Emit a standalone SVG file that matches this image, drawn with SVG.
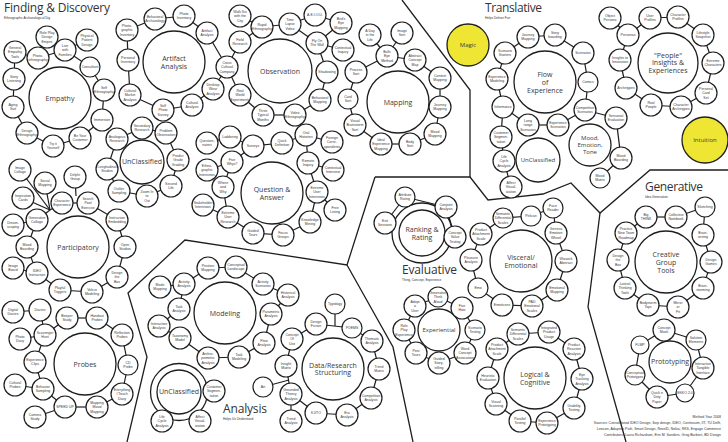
<svg xmlns="http://www.w3.org/2000/svg" width="728" height="442" viewBox="0 0 728 442">
<style>
.n circle{fill:#fff;stroke:#1e1e1e;stroke-width:1.2}
.n text{font-family:"Liberation Sans",Arial,sans-serif;font-size:3.5px;fill:#3a3a3a;text-anchor:middle}
.h circle{fill:#fff;stroke:#1e1e1e;stroke-width:1.3}
.h text{font-family:"Open Sans","Liberation Sans",sans-serif;font-size:7px;fill:#3a3a3a;text-anchor:middle}
.h .m{font-size:6px}
.h circle.ring{fill:none}
.y circle{fill:#efe633}
#conn line,#conn polyline{stroke:#1e1e1e;stroke-width:1.2;fill:none}
#regions polyline{stroke:#1e1e1e;stroke-width:1.3;fill:none}
.ti{font-family:"Open Sans","Liberation Sans",sans-serif;font-size:12px;fill:#333}
.st{font-family:"Liberation Sans",Arial,sans-serif;font-size:3.2px;fill:#333}
.ft{font-family:"Liberation Sans",Arial,sans-serif;font-size:3.5px;fill:#333;text-anchor:end}
</style>
<rect width="728" height="442" fill="#fff"/>
<g id="regions">
<polyline points="402,0 470,90 470,177"/>
<polyline points="375,177 470,177 488,200 543,194 571,183 600,213 650,170 728,170"/>
<polyline points="600,213 590,292 588,307 626,442"/>
<polyline points="375,177 347,265 185,240 128,293 147,357 127,442"/>
<polyline points="347,265 393,347 413,442"/>
</g>
<g id="titles">
<text class="ti" x="4" y="12" textLength="106" font-size="12.5">Finding &amp; Discovery</text>
<text class="st" x="4" y="19">Ethnographic Archaeological Dig</text>
<text class="ti" x="485" y="12" textLength="57">Translative</text>
<text class="st" x="485" y="19">Helps Deliver Fun</text>
<text class="ti" x="402" y="274" textLength="55">Evaluative</text>
<text class="st" x="402" y="281.2">Thing, Concept, Experience</text>
<text class="ti" x="223" y="412.5" textLength="44">Analysis</text>
<text class="st" x="223" y="419.8">Helps Us Understand</text>
<text class="ti" x="645" y="191" textLength="58">Generative</text>
<text class="st" x="645" y="198">Idea Generation</text>
<text class="ft" x="721" y="418">Method Year 2008</text>
<text class="ft" x="721" y="424">Sources: Consolidated IDEO Design, Ikep design, IDEO, Continuum, IIT, TU Delft,</text>
<text class="ft" x="721" y="430">Lexicon, Adaptive Path, Smart Design, RevelD, Nokia, RKS, Engage Commerce</text>
<text class="ft" x="721" y="436">Contributors: Laura Richardson, Erin M. Sanders, Greg Barbieri, BD Design</text>
</g>
<g id="conn">
<line x1="15" y1="52" x2="38" y2="58"/><line x1="38" y1="58" x2="47" y2="37"/><line x1="38" y1="58" x2="65" y2="50"/><line x1="65" y1="50" x2="87" y2="40"/><line x1="65" y1="50" x2="90" y2="67"/><line x1="90" y1="67" x2="104" y2="90"/><line x1="104" y1="90" x2="102" y2="120"/><line x1="102" y1="120" x2="80" y2="138"/><line x1="80" y1="138" x2="53" y2="146"/><line x1="53" y1="146" x2="27" y2="133"/><line x1="27" y1="133" x2="13" y2="107"/><line x1="13" y1="107" x2="14" y2="79"/><line x1="14" y1="79" x2="15" y2="52"/>
<line x1="127" y1="30" x2="155" y2="19"/><line x1="155" y1="19" x2="184" y2="16"/><line x1="184" y1="16" x2="207" y2="33"/><line x1="207" y1="33" x2="227" y2="67"/><line x1="227" y1="67" x2="213" y2="89"/><line x1="213" y1="89" x2="192" y2="105"/><line x1="192" y1="105" x2="163" y2="110"/><line x1="163" y1="110" x2="130" y2="95"/><line x1="130" y1="95" x2="128" y2="60"/><line x1="128" y1="60" x2="127" y2="30"/><line x1="227" y1="67" x2="240" y2="42"/><line x1="227" y1="67" x2="240" y2="95"/>
<line x1="240" y1="16" x2="262" y2="27"/><line x1="262" y1="27" x2="240" y2="42"/><line x1="262" y1="27" x2="290" y2="24"/><line x1="290" y1="24" x2="315" y2="15"/><line x1="290" y1="24" x2="317" y2="43"/><line x1="315" y1="15" x2="341" y2="23"/><line x1="341" y1="23" x2="317" y2="43"/><line x1="317" y1="43" x2="343" y2="50"/><line x1="317" y1="43" x2="327" y2="72"/><line x1="327" y1="72" x2="320" y2="100"/><line x1="320" y1="100" x2="295" y2="115"/><line x1="295" y1="115" x2="263" y2="115"/><line x1="263" y1="115" x2="240" y2="95"/>
<line x1="370" y1="35" x2="387" y2="56"/><line x1="402" y1="33" x2="387" y2="56"/><line x1="387" y1="56" x2="415" y2="60"/><line x1="387" y1="56" x2="356" y2="72"/><line x1="415" y1="60" x2="440" y2="78"/><line x1="440" y1="78" x2="440" y2="107"/><line x1="440" y1="107" x2="435" y2="134"/><line x1="435" y1="134" x2="410" y2="144"/><line x1="410" y1="144" x2="381" y2="144"/><line x1="381" y1="144" x2="355" y2="125"/><line x1="355" y1="125" x2="348" y2="99"/><line x1="348" y1="99" x2="356" y2="72"/>
<line x1="505" y1="53" x2="528" y2="37"/><line x1="528" y1="37" x2="555" y2="35"/><line x1="555" y1="35" x2="583" y2="53"/><line x1="583" y1="53" x2="588" y2="82"/><line x1="588" y1="82" x2="585" y2="110"/><line x1="585" y1="110" x2="558" y2="125"/><line x1="558" y1="125" x2="528" y2="125"/><line x1="528" y1="125" x2="503" y2="107"/><line x1="503" y1="107" x2="497" y2="79"/><line x1="497" y1="79" x2="505" y2="53"/>
<line x1="585" y1="110" x2="616" y2="118"/><line x1="616" y1="118" x2="621" y2="158"/><line x1="621" y1="158" x2="600" y2="178"/>
<line x1="503" y1="107" x2="501" y2="137"/><line x1="501" y1="137" x2="504" y2="161"/><line x1="504" y1="161" x2="511" y2="187"/>
<line x1="610" y1="18" x2="628" y2="35"/><line x1="628" y1="35" x2="650" y2="18"/><line x1="650" y1="18" x2="678" y2="17"/><line x1="678" y1="17" x2="703" y2="35"/><line x1="703" y1="35" x2="713" y2="63"/><line x1="713" y1="63" x2="706" y2="93"/><line x1="706" y1="93" x2="681" y2="107"/><line x1="681" y1="107" x2="651" y2="105"/><line x1="651" y1="105" x2="626" y2="88"/><line x1="626" y1="88" x2="620" y2="60"/><line x1="620" y1="60" x2="628" y2="35"/>
<line x1="646" y1="217" x2="676" y2="217"/><line x1="676" y1="217" x2="705" y2="207"/><line x1="705" y1="207" x2="703" y2="235"/><line x1="703" y1="235" x2="711" y2="262"/><line x1="711" y1="262" x2="703" y2="288"/><line x1="703" y1="288" x2="678" y2="307"/><line x1="678" y1="307" x2="648" y2="305"/><line x1="648" y1="305" x2="625" y2="288"/><line x1="625" y1="288" x2="618" y2="260"/><line x1="618" y1="260" x2="626" y2="233"/><line x1="626" y1="233" x2="646" y2="217"/>
<line x1="664" y1="330" x2="696" y2="340"/><line x1="696" y1="340" x2="703" y2="368"/><line x1="703" y1="368" x2="685" y2="393"/><line x1="685" y1="393" x2="657" y2="397"/><line x1="657" y1="397" x2="635" y2="375"/><line x1="635" y1="375" x2="640" y2="345"/><line x1="640" y1="345" x2="664" y2="330"/>
<line x1="385" y1="223" x2="405" y2="197"/><line x1="405" y1="197" x2="446" y2="207"/><line x1="446" y1="207" x2="455" y2="237"/>
<line x1="503" y1="218" x2="531" y2="216"/><line x1="531" y1="216" x2="553" y2="208"/><line x1="553" y1="208" x2="556" y2="233"/><line x1="556" y1="233" x2="566" y2="261"/><line x1="566" y1="261" x2="557" y2="290"/><line x1="503" y1="218" x2="481" y2="234"/><line x1="481" y1="234" x2="471" y2="260"/><line x1="471" y1="260" x2="478" y2="288"/><line x1="478" y1="288" x2="502" y2="305"/><line x1="502" y1="305" x2="532" y2="306"/><line x1="532" y1="306" x2="557" y2="290"/>
<line x1="415" y1="306" x2="438" y2="297"/><line x1="438" y1="297" x2="462" y2="308"/><line x1="462" y1="308" x2="475" y2="330"/><line x1="475" y1="330" x2="465" y2="353"/><line x1="465" y1="353" x2="439" y2="363"/><line x1="439" y1="363" x2="416" y2="353"/><line x1="416" y1="353" x2="404" y2="330"/><line x1="404" y1="330" x2="415" y2="306"/>
<line x1="497" y1="349" x2="518" y2="334"/><line x1="518" y1="334" x2="549" y2="332"/><line x1="549" y1="332" x2="574" y2="349"/><line x1="574" y1="349" x2="582" y2="379"/><line x1="582" y1="379" x2="574" y2="408"/><line x1="574" y1="408" x2="547" y2="423"/><line x1="547" y1="423" x2="520" y2="421"/><line x1="520" y1="421" x2="496" y2="404"/><line x1="496" y1="404" x2="488" y2="378"/><line x1="488" y1="378" x2="497" y2="349"/>
<line x1="160" y1="287" x2="184" y2="284"/><line x1="184" y1="284" x2="208" y2="268"/><line x1="208" y1="268" x2="236" y2="267"/><line x1="236" y1="267" x2="263" y2="284"/><line x1="263" y1="284" x2="288" y2="295"/><line x1="288" y1="295" x2="271" y2="314"/><line x1="271" y1="314" x2="264" y2="343"/><line x1="264" y1="343" x2="239" y2="357"/><line x1="239" y1="357" x2="208" y2="358"/><line x1="208" y1="358" x2="180" y2="338"/><line x1="180" y1="338" x2="159" y2="326"/><line x1="159" y1="326" x2="179" y2="309"/><line x1="179" y1="309" x2="184" y2="284"/>
<line x1="316" y1="324" x2="352" y2="328"/><line x1="335" y1="304" x2="335" y2="326"/><line x1="316" y1="324" x2="292" y2="339"/><line x1="292" y1="339" x2="286" y2="366"/><line x1="286" y1="366" x2="291" y2="394"/><line x1="263" y1="387" x2="289" y2="380"/><line x1="291" y1="394" x2="291" y2="421"/><line x1="291" y1="394" x2="316" y2="413"/><line x1="316" y1="413" x2="347" y2="415"/><line x1="347" y1="415" x2="371" y2="398"/><line x1="371" y1="398" x2="379" y2="369"/><line x1="379" y1="369" x2="372" y2="341"/><line x1="372" y1="341" x2="352" y2="328"/>
<line x1="13" y1="312" x2="40" y2="310"/><line x1="40" y1="310" x2="45" y2="335"/><line x1="67" y1="318" x2="97" y2="318"/><line x1="67" y1="318" x2="45" y2="335"/><line x1="97" y1="318" x2="122" y2="335"/><line x1="20" y1="339" x2="45" y2="335"/><line x1="45" y1="335" x2="35" y2="362"/><line x1="35" y1="362" x2="43" y2="389"/><line x1="15" y1="385" x2="43" y2="389"/><line x1="43" y1="389" x2="65" y2="407"/><line x1="65" y1="407" x2="35" y2="417"/><line x1="65" y1="407" x2="97" y2="407"/><line x1="97" y1="407" x2="122" y2="394"/><line x1="122" y1="394" x2="128" y2="365"/><line x1="128" y1="365" x2="122" y2="335"/>
<line x1="20" y1="170" x2="50" y2="210"/><line x1="45" y1="183" x2="50" y2="210"/><line x1="23" y1="198" x2="50" y2="210"/><line x1="37" y1="220" x2="50" y2="210"/><line x1="50" y1="210" x2="62" y2="203"/><line x1="75" y1="177" x2="76" y2="196"/><line x1="62" y1="203" x2="88" y2="203"/><line x1="88" y1="203" x2="117" y2="220"/><line x1="117" y1="220" x2="125" y2="247"/><line x1="125" y1="247" x2="117" y2="277"/><line x1="117" y1="277" x2="92" y2="292"/><line x1="92" y1="292" x2="60" y2="290"/><line x1="60" y1="290" x2="37" y2="273"/><line x1="37" y1="273" x2="13" y2="268"/><line x1="37" y1="273" x2="27" y2="247"/><line x1="27" y1="247" x2="37" y2="220"/><line x1="37" y1="220" x2="13" y2="225"/>
<line x1="117" y1="139" x2="142" y2="128"/><line x1="142" y1="128" x2="166" y2="133"/><line x1="166" y1="133" x2="178" y2="160"/><line x1="178" y1="160" x2="171" y2="186"/><line x1="171" y1="186" x2="147" y2="196"/><line x1="147" y1="196" x2="119" y2="191"/><line x1="119" y1="191" x2="107" y2="169"/><line x1="107" y1="169" x2="117" y2="139"/>
<line x1="207" y1="143" x2="230" y2="137"/><line x1="230" y1="137" x2="253" y2="146"/><line x1="253" y1="146" x2="282" y2="143"/><line x1="282" y1="143" x2="306" y2="135"/><line x1="306" y1="135" x2="332" y2="142"/><line x1="306" y1="135" x2="308" y2="163"/><line x1="308" y1="163" x2="333" y2="170"/><line x1="308" y1="163" x2="317" y2="192"/><line x1="317" y1="192" x2="335" y2="210"/><line x1="317" y1="192" x2="310" y2="222"/><line x1="310" y1="222" x2="283" y2="235"/><line x1="283" y1="235" x2="253" y2="233"/><line x1="253" y1="233" x2="228" y2="217"/><line x1="228" y1="217" x2="203" y2="205"/><line x1="228" y1="217" x2="223" y2="187"/><line x1="223" y1="187" x2="232" y2="162"/><line x1="232" y1="162" x2="207" y2="170"/><line x1="232" y1="162" x2="253" y2="146"/>
</g>
<g id="hubs">
<g id="empathy" class="h"><circle cx="60" cy="98" r="31"/><text x="60" y="100.5">Empathy</text></g>
<g id="artifact" class="h"><circle cx="174" cy="62" r="31"/><text y="60.5"><tspan x="174">Artifact</tspan><tspan x="174" dy="8">Analysis</tspan></text></g>
<g id="observation" class="h"><circle cx="280" cy="71" r="32"/><text x="280" y="73.5">Observation</text></g>
<g id="mapping" class="h"><circle cx="398" cy="102" r="31"/><text x="398" y="104.5">Mapping</text></g>
<g id="magic" class="h y"><circle cx="468" cy="45" r="21"/><text x="468" y="47" class="m">Magic</text></g>
<g id="flow" class="h"><circle cx="545" cy="82" r="31"/><text y="76.5"><tspan x="545">Flow</tspan><tspan x="545" dy="8">of</tspan><tspan x="545" dy="8">Experience</tspan></text></g>
<g id="mood" class="h"><circle cx="590" cy="145" r="21"/><text y="140.4" class="m"><tspan x="590">Mood,</tspan><tspan x="590" dy="6.8">Emotion,</tspan><tspan x="590" dy="6.8">Tone</tspan></text></g>
<g id="unclassified-t" class="h"><circle cx="538" cy="160" r="22"/><text x="538" y="162.2" class="m">UnClassified</text></g>
<g id="people" class="h"><circle cx="668" cy="63" r="30"/><text y="57.9" font-size="6.5"><tspan x="668">"People"</tspan><tspan x="668" dy="7.5">Insights &amp;</tspan><tspan x="668" dy="7.5">Experiences</tspan></text></g>
<g id="intuition" class="h y"><circle cx="705" cy="140" r="23"/><text x="705" y="142" class="m">Intuition</text></g>
<g id="creative" class="h"><circle cx="666" cy="262" r="31"/><text y="256.5"><tspan x="666">Creative</tspan><tspan x="666" dy="8">Group</tspan><tspan x="666" dy="8">Tools</tspan></text></g>
<g id="prototyping" class="h"><circle cx="670" cy="362" r="21"/><text x="670" y="364.3" font-size="6.5">Prototyping</text></g>
<g id="ranking" class="h"><circle class="ring" cx="422" cy="233" r="30"/><circle cx="422" cy="233" r="23"/><text y="231.5" font-size="6.5"><tspan x="422">Ranking &amp;</tspan><tspan x="422" dy="8">Rating</tspan></text></g>
<g id="visceral" class="h"><circle cx="521" cy="261" r="31"/><text y="259.5"><tspan x="521">Visceral/</tspan><tspan x="521" dy="8">Emotional</tspan></text></g>
<g id="experiential" class="h"><circle cx="439" cy="330" r="21"/><text x="439" y="332.2" class="m">Experiential</text></g>
<g id="logical" class="h"><circle cx="535" cy="378" r="31"/><text y="376.5"><tspan x="535">Logical &amp;</tspan><tspan x="535" dy="8">Cognitive</tspan></text></g>
<g id="modeling" class="h"><circle cx="225" cy="313" r="31"/><text x="225" y="315.5">Modeling</text></g>
<g id="unclassified-a" class="h"><circle class="ring" cx="179" cy="392" r="28.5"/><circle cx="179" cy="392" r="22"/><text x="179" y="394.3" font-size="6.5">UnClassified</text></g>
<g id="data" class="h"><circle cx="333" cy="369" r="31"/><text y="367.5" font-size="6.5"><tspan x="333">Data/Research</tspan><tspan x="333" dy="7.5">Structuring</tspan></text></g>
<g id="probes" class="h"><circle cx="85" cy="364" r="31"/><text x="85" y="366.5">Probes</text></g>
<g id="participatory" class="h"><circle cx="78" cy="247" r="31"/><text x="78" y="249.5">Participatory</text></g>
<g id="unclassified-f" class="h"><circle cx="142" cy="162" r="22"/><text x="142" y="164.3" font-size="6.5">UnClassified</text></g>
<g id="qa" class="h"><circle cx="272" cy="193" r="31"/><text y="191.5"><tspan x="272">Question &amp;</tspan><tspan x="272" dy="8">Answer</tspan></text></g>
</g>
<g id="nodes">
<g id="e1" class="n"><circle cx="15" cy="52" r="11"/><text y="48.8"><tspan x="15">General</tspan><tspan x="15" dy="4.4">Empathy</tspan><tspan x="15" dy="4.4">Tools</tspan></text></g>
<g id="e2" class="n"><circle cx="38" cy="58" r="11"/><text y="57"><tspan x="38">Photo-</tspan><tspan x="38" dy="4.4">ethnography</tspan></text></g>
<g id="e3" class="n"><circle cx="47" cy="37" r="11"/><text y="33.8"><tspan x="47">Role Play</tspan><tspan x="47" dy="4.4">Design</tspan><tspan x="47" dy="4.4">Empire</tspan></text></g>
<g id="e4" class="n"><circle cx="65" cy="50" r="11"/><text y="46.8"><tspan x="65">Live</tspan><tspan x="65" dy="4.4">with</tspan><tspan x="65" dy="4.4">Families</tspan></text></g>
<g id="e5" class="n"><circle cx="87" cy="40" r="11"/><text y="36.8"><tspan x="87">Physical</tspan><tspan x="87" dy="4.4">Patient</tspan><tspan x="87" dy="4.4">Design</tspan></text></g>
<g id="e6" class="n"><circle cx="90" cy="67" r="10"/><text x="90" y="68.3">Consultant</text></g>
<g id="e7" class="n"><circle cx="104" cy="90" r="11"/><text y="89"><tspan x="104">Self</tspan><tspan x="104" dy="4.4">Ethnography</tspan></text></g>
<g id="e8" class="n"><circle cx="102" cy="120" r="11"/><text x="102" y="121.3">Immersion</text></g>
<g id="e9" class="n"><circle cx="80" cy="138" r="11"/><text y="137"><tspan x="80">Be Your</tspan><tspan x="80" dy="4.4">Customer</tspan></text></g>
<g id="e10" class="n"><circle cx="53" cy="146" r="11"/><text y="145"><tspan x="53">Try it</tspan><tspan x="53" dy="4.4">Yourself</tspan></text></g>
<g id="e11" class="n"><circle cx="27" cy="133" r="11"/><text y="132"><tspan x="27">Design</tspan><tspan x="27" dy="4.4">Ethnography</tspan></text></g>
<g id="e12" class="n"><circle cx="13" cy="107" r="11"/><text y="106"><tspan x="13">Aging</tspan><tspan x="13" dy="4.4">Suit</tspan></text></g>
<g id="e13" class="n"><circle cx="14" cy="79" r="11"/><text y="78"><tspan x="14">Story</tspan><tspan x="14" dy="4.4">Listening</tspan></text></g>

<g id="a1" class="n"><circle cx="127" cy="30" r="11"/><text y="26.8"><tspan x="127">Photo-</tspan><tspan x="127" dy="4.4">graphic</tspan><tspan x="127" dy="4.4">Inventory</tspan></text></g>
<g id="a2" class="n"><circle cx="155" cy="19" r="11"/><text y="18"><tspan x="155">Behavioral</tspan><tspan x="155" dy="4.4">Archaeology</tspan></text></g>
<g id="a3" class="n"><circle cx="184" cy="16" r="11"/><text y="15"><tspan x="184">Photo</tspan><tspan x="184" dy="4.4">Inventory</tspan></text></g>
<g id="a4" class="n"><circle cx="207" cy="33" r="11"/><text y="32"><tspan x="207">Artifact</tspan><tspan x="207" dy="4.4">Analysis</tspan></text></g>
<g id="a5" class="n"><circle cx="227" cy="67" r="11"/><text y="63.8"><tspan x="227">Cross</tspan><tspan x="227" dy="4.4">Cultural</tspan><tspan x="227" dy="4.4">Company</tspan></text></g>
<g id="a6" class="n"><circle cx="213" cy="89" r="11"/><text y="85.8"><tspan x="213">Desktop</tspan><tspan x="213" dy="4.4">Wear</tspan><tspan x="213" dy="4.4">Analysis</tspan></text></g>
<g id="a7" class="n"><circle cx="192" cy="105" r="11"/><text y="104"><tspan x="192">Cultural</tspan><tspan x="192" dy="4.4">Analysis</tspan></text></g>
<g id="a8" class="n"><circle cx="163" cy="110" r="11"/><text y="106.8"><tspan x="163">Self</tspan><tspan x="163" dy="4.4">Photo</tspan><tspan x="163" dy="4.4">Survey</tspan></text></g>
<g id="a9" class="n"><circle cx="130" cy="95" r="11"/><text y="91.8"><tspan x="130">Cultural</tspan><tspan x="130" dy="4.4">Market</tspan><tspan x="130" dy="4.4">Analysis</tspan></text></g>
<g id="a10" class="n"><circle cx="128" cy="60" r="11"/><text y="59"><tspan x="128">Personal</tspan><tspan x="128" dy="4.4">Inventory</tspan></text></g>

<g id="o1" class="n"><circle cx="240" cy="16" r="11"/><text y="12.8"><tspan x="240">Walk Six</tspan><tspan x="240" dy="4.4">with the</tspan><tspan x="240" dy="4.4">City</tspan></text></g>
<g id="o2" class="n"><circle cx="262" cy="27" r="11"/><text y="26"><tspan x="262">Rapid</tspan><tspan x="262" dy="4.4">Ethnography</tspan></text></g>
<g id="o3" class="n"><circle cx="240" cy="42" r="11"/><text y="41"><tspan x="240">Field</tspan><tspan x="240" dy="4.4">Research</tspan></text></g>
<g id="o4" class="n"><circle cx="290" cy="24" r="11"/><text y="20.8"><tspan x="290">Time</tspan><tspan x="290" dy="4.4">Lapse</tspan><tspan x="290" dy="4.4">Video</tspan></text></g>
<g id="o5" class="n"><circle cx="315" cy="15" r="11"/><text x="315" y="16.3">A.E.I.O.U.</text></g>
<g id="o6" class="n"><circle cx="341" cy="23" r="11"/><text y="19.8"><tspan x="341">Bird's</tspan><tspan x="341" dy="4.4">Eye</tspan><tspan x="341" dy="4.4">Mapping</tspan></text></g>
<g id="o7" class="n"><circle cx="317" cy="43" r="11"/><text y="42"><tspan x="317">Fly On</tspan><tspan x="317" dy="4.4">The Wall</tspan></text></g>
<g id="o8" class="n"><circle cx="343" cy="50" r="11"/><text y="49"><tspan x="343">Contextual</tspan><tspan x="343" dy="4.4">Inquiry</tspan></text></g>
<g id="o9" class="n"><circle cx="327" cy="72" r="11"/><text x="327" y="73.3">Shadowing</text></g>
<g id="o10" class="n"><circle cx="320" cy="100" r="11"/><text y="99"><tspan x="320">Behavioral</tspan><tspan x="320" dy="4.4">Mapping</tspan></text></g>
<g id="o11" class="n"><circle cx="295" cy="115" r="11"/><text y="114"><tspan x="295">Video</tspan><tspan x="295" dy="4.4">Ethnography</tspan></text></g>
<g id="o12" class="n"><circle cx="263" cy="115" r="11"/><text y="111.8"><tspan x="263">Three</tspan><tspan x="263" dy="4.4">Typical</tspan><tspan x="263" dy="4.4">Months</tspan></text></g>
<g id="o13" class="n"><circle cx="240" cy="95" r="11"/><text y="91.8"><tspan x="240">Real</tspan><tspan x="240" dy="4.4">World</tspan><tspan x="240" dy="4.4">Experiments</tspan></text></g>

<g id="m1" class="n"><circle cx="370" cy="35" r="11"/><text y="31.8"><tspan x="370">A Day</tspan><tspan x="370" dy="4.4">in the</tspan><tspan x="370" dy="4.4">Life</tspan></text></g>
<g id="m2" class="n"><circle cx="402" cy="33" r="11"/><text y="32"><tspan x="402">Image</tspan><tspan x="402" dy="4.4">Sort</tspan></text></g>
<g id="m3" class="n"><circle cx="387" cy="56" r="11"/><text y="52.8"><tspan x="387">Bulls</tspan><tspan x="387" dy="4.4">Eye</tspan><tspan x="387" dy="4.4">Method</tspan></text></g>
<g id="m4" class="n"><circle cx="415" cy="60" r="11"/><text y="56.8"><tspan x="415">Abstract</tspan><tspan x="415" dy="4.4">Concept</tspan><tspan x="415" dy="4.4">Map</tspan></text></g>
<g id="m5" class="n"><circle cx="440" cy="78" r="11"/><text y="77"><tspan x="440">Context</tspan><tspan x="440" dy="4.4">Mapping</tspan></text></g>
<g id="m6" class="n"><circle cx="440" cy="107" r="11"/><text y="106"><tspan x="440">Journey</tspan><tspan x="440" dy="4.4">Mapping</tspan></text></g>
<g id="m7" class="n"><circle cx="435" cy="134" r="11"/><text y="133"><tspan x="435">Mood</tspan><tspan x="435" dy="4.4">Mapping</tspan></text></g>
<g id="m8" class="n"><circle cx="410" cy="144" r="11"/><text y="143"><tspan x="410">Body</tspan><tspan x="410" dy="4.4">Sort</tspan></text></g>
<g id="m9" class="n"><circle cx="381" cy="144" r="11"/><text y="140.8"><tspan x="381">Ideal</tspan><tspan x="381" dy="4.4">Experience</tspan><tspan x="381" dy="4.4">Mapping</tspan></text></g>
<g id="m10" class="n"><circle cx="355" cy="125" r="11"/><text y="121.8"><tspan x="355">Visual</tspan><tspan x="355" dy="4.4">Brainstorm</tspan><tspan x="355" dy="4.4">Sort</tspan></text></g>
<g id="m11" class="n"><circle cx="348" cy="99" r="10"/><text y="98"><tspan x="348">Card</tspan><tspan x="348" dy="4.4">Sort</tspan></text></g>
<g id="m12" class="n"><circle cx="356" cy="72" r="11"/><text y="71"><tspan x="356">Process</tspan><tspan x="356" dy="4.4">Sort</tspan></text></g>

<g id="f1" class="n"><circle cx="528" cy="37" r="11"/><text y="36"><tspan x="528">Journey</tspan><tspan x="528" dy="4.4">Mapping</tspan></text></g>
<g id="f2" class="n"><circle cx="555" cy="35" r="11"/><text y="34"><tspan x="555">Story</tspan><tspan x="555" dy="4.4">boarding</tspan></text></g>
<g id="f3" class="n"><circle cx="505" cy="53" r="11"/><text y="52"><tspan x="505">Scenario</tspan><tspan x="505" dy="4.4">Starters</tspan></text></g>
<g id="f4" class="n"><circle cx="583" cy="53" r="11"/><text x="583" y="54.3">Scenarios</text></g>
<g id="f5" class="n"><circle cx="588" cy="82" r="10"/><text x="588" y="83.3">Comics</text></g>
<g id="f6" class="n"><circle cx="497" cy="79" r="11"/><text y="78"><tspan x="497">Experience</tspan><tspan x="497" dy="4.4">Modeling</tspan></text></g>
<g id="f7" class="n"><circle cx="503" cy="107" r="11"/><text x="503" y="108.3">Informance</text></g>
<g id="f8" class="n"><circle cx="528" cy="125" r="11"/><text y="121.8"><tspan x="528">Long</tspan><tspan x="528" dy="4.4">range</tspan><tspan x="528" dy="4.4">Scenarios</tspan></text></g>
<g id="f9" class="n"><circle cx="585" cy="110" r="11"/><text y="109"><tspan x="585">Competitive</tspan><tspan x="585" dy="4.4">Scenarios</tspan></text></g>
<g id="f10" class="n"><circle cx="558" cy="125" r="11"/><text y="124"><tspan x="558">Experience</tspan><tspan x="558" dy="4.4">Scenarios</tspan></text></g>
<g id="md1" class="n"><circle cx="616" cy="118" r="11"/><text y="117"><tspan x="616">Sensorial</tspan><tspan x="616" dy="4.4">Evaluation</tspan></text></g>
<g id="md2" class="n"><circle cx="621" cy="158" r="11"/><text y="157"><tspan x="621">Mood</tspan><tspan x="621" dy="4.4">Boarding</tspan></text></g>
<g id="md3" class="n"><circle cx="600" cy="178" r="10"/><text y="177"><tspan x="600">Mood</tspan><tspan x="600" dy="4.4">Matrix</tspan></text></g>
<g id="u1" class="n"><circle cx="501" cy="137" r="11"/><text y="133.8"><tspan x="501">Customer</tspan><tspan x="501" dy="4.4">Segmen-</tspan><tspan x="501" dy="4.4">tation</tspan></text></g>
<g id="u2" class="n"><circle cx="504" cy="161" r="11"/><text y="157.8"><tspan x="504">Life</tspan><tspan x="504" dy="4.4">Cycle</tspan><tspan x="504" dy="4.4">Analysis</tspan></text></g>
<g id="u3" class="n"><circle cx="511" cy="187" r="11"/><text y="183.8"><tspan x="511">Affect</tspan><tspan x="511" dy="4.4">Visual-</tspan><tspan x="511" dy="4.4">ization</tspan></text></g>

<g id="p1" class="n"><circle cx="610" cy="18" r="11"/><text y="17"><tspan x="610">Object</tspan><tspan x="610" dy="4.4">Persona</tspan></text></g>
<g id="p2" class="n"><circle cx="650" cy="18" r="11"/><text y="17"><tspan x="650">User</tspan><tspan x="650" dy="4.4">Profiles</tspan></text></g>
<g id="p3" class="n"><circle cx="678" cy="17" r="11"/><text y="16"><tspan x="678">Character</tspan><tspan x="678" dy="4.4">Profiles</tspan></text></g>
<g id="p4" class="n"><circle cx="703" cy="35" r="11"/><text y="34"><tspan x="703">Lifestyle</tspan><tspan x="703" dy="4.4">Snapshot</tspan></text></g>
<g id="p5" class="n"><circle cx="713" cy="63" r="11"/><text y="62"><tspan x="713">Extreme</tspan><tspan x="713" dy="4.4">Characters</tspan></text></g>
<g id="p6" class="n"><circle cx="706" cy="93" r="11"/><text y="89.8"><tspan x="706">Personal</tspan><tspan x="706" dy="4.4">Card</tspan><tspan x="706" dy="4.4">Set</tspan></text></g>
<g id="p7" class="n"><circle cx="681" cy="107" r="11"/><text y="106"><tspan x="681">Character</tspan><tspan x="681" dy="4.4">Archetypes</tspan></text></g>
<g id="p8" class="n"><circle cx="651" cy="105" r="11"/><text y="104"><tspan x="651">Real</tspan><tspan x="651" dy="4.4">People</tspan></text></g>
<g id="p9" class="n"><circle cx="626" cy="88" r="11"/><text x="626" y="89.3">Archetypes</text></g>
<g id="p10" class="n"><circle cx="620" cy="60" r="11"/><text y="59"><tspan x="620">Insights to</tspan><tspan x="620" dy="4.4">Innovation</tspan></text></g>
<g id="p11" class="n"><circle cx="628" cy="35" r="11"/><text x="628" y="36.3">Personas</text></g>

<g id="g1" class="n"><circle cx="646" cy="217" r="11"/><text y="216"><tspan x="646">Big</tspan><tspan x="646" dy="4.4">THINK</tspan></text></g>
<g id="g2" class="n"><circle cx="676" cy="217" r="11"/><text y="216"><tspan x="676">Collective</tspan><tspan x="676" dy="4.4">Notebook</tspan></text></g>
<g id="g3" class="n"><circle cx="705" cy="207" r="10"/><text x="705" y="208.3">Sketching</text></g>
<g id="g4" class="n"><circle cx="703" cy="235" r="11"/><text y="234"><tspan x="703">Brain-</tspan><tspan x="703" dy="4.4">writing</tspan></text></g>
<g id="g5" class="n"><circle cx="711" cy="262" r="11"/><text y="261"><tspan x="711">Design</tspan><tspan x="711" dy="4.4">Games</tspan></text></g>
<g id="g6" class="n"><circle cx="703" cy="288" r="11"/><text y="287"><tspan x="703">Brain-</tspan><tspan x="703" dy="4.4">storming</tspan></text></g>
<g id="g7" class="n"><circle cx="626" cy="233" r="11"/><text y="229.8"><tspan x="626">Practice</tspan><tspan x="626" dy="4.4">New Team</tspan><tspan x="626" dy="4.4">Roadmap</tspan></text></g>
<g id="g8" class="n"><circle cx="618" cy="260" r="11"/><text y="256.8"><tspan x="618">Design</tspan><tspan x="618" dy="4.4">the</tspan><tspan x="618" dy="4.4">Box</tspan></text></g>
<g id="g9" class="n"><circle cx="625" cy="288" r="11"/><text y="284.8"><tspan x="625">Lateral</tspan><tspan x="625" dy="4.4">Thinking</tspan><tspan x="625" dy="4.4">Tools</tspan></text></g>
<g id="g10" class="n"><circle cx="648" cy="305" r="11"/><text y="304"><tspan x="648">Bodystorm</tspan><tspan x="648" dy="4.4">Toys</tspan></text></g>
<g id="g11" class="n"><circle cx="678" cy="307" r="11"/><text y="303.8"><tspan x="678">Mirror</tspan><tspan x="678" dy="4.4">or</tspan><tspan x="678" dy="4.4">Fit</tspan></text></g>
<g id="pr1" class="n"><circle cx="664" cy="330" r="11"/><text y="329"><tspan x="664">Concept</tspan><tspan x="664" dy="4.4">Mash</tspan></text></g>
<g id="pr2" class="n"><circle cx="696" cy="340" r="10"/><text y="339"><tspan x="696">Solution</tspan><tspan x="696" dy="4.4">Elements</tspan></text></g>
<g id="pr3" class="n"><circle cx="640" cy="345" r="9"/><text x="640" y="346.3">FLMP</text></g>
<g id="pr4" class="n"><circle cx="703" cy="368" r="11"/><text y="364.8"><tspan x="703">Interactive</tspan><tspan x="703" dy="4.4">Tangible</tspan><tspan x="703" dy="4.4">Interface</tspan></text></g>
<g id="pr5" class="n"><circle cx="635" cy="375" r="10"/><text y="374"><tspan x="635">Conceptual</tspan><tspan x="635" dy="4.4">Prototypes</tspan></text></g>
<g id="pr6" class="n"><circle cx="685" cy="393" r="9"/><text x="685" y="394.3">EKKO 2.0</text></g>
<g id="pr7" class="n"><circle cx="657" cy="397" r="11"/><text y="393.8"><tspan x="657">Quick n</tspan><tspan x="657" dy="4.4">Dirty</tspan><tspan x="657" dy="4.4">Paper</tspan></text></g>

<g id="rr1" class="n"><circle cx="405" cy="197" r="10"/><text y="196"><tspan x="405">Attribute</tspan><tspan x="405" dy="4.4">Rating</tspan></text></g>
<g id="rr2" class="n"><circle cx="446" cy="207" r="11"/><text y="206"><tspan x="446">Conjoint</tspan><tspan x="446" dy="4.4">Analysis</tspan></text></g>
<g id="rr3" class="n"><circle cx="385" cy="223" r="11"/><text y="222"><tspan x="385">Exit</tspan><tspan x="385" dy="4.4">Sessions</tspan></text></g>
<g id="rr4" class="n"><circle cx="455" cy="237" r="11"/><text y="233.8"><tspan x="455">Concept</tspan><tspan x="455" dy="4.4">Value</tspan><tspan x="455" dy="4.4">Testing</tspan></text></g>
<g id="ve1" class="n"><circle cx="503" cy="218" r="10"/><text y="214.8"><tspan x="503">Semantic</tspan><tspan x="503" dy="4.4">Differential</tspan><tspan x="503" dy="4.4">Scales</tspan></text></g>
<g id="ve2" class="n"><circle cx="531" cy="216" r="10"/><text x="531" y="217.3">Pelican</text></g>
<g id="ve3" class="n"><circle cx="553" cy="208" r="10"/><text y="207"><tspan x="553">Face</tspan><tspan x="553" dy="4.4">Reader</tspan></text></g>
<g id="ve4" class="n"><circle cx="556" cy="233" r="11"/><text y="229.8"><tspan x="556">Geneva</tspan><tspan x="556" dy="4.4">Emotion</tspan><tspan x="556" dy="4.4">Wheel</tspan></text></g>
<g id="ve5" class="n"><circle cx="566" cy="261" r="11"/><text y="260"><tspan x="566">Warwick</tspan><tspan x="566" dy="4.4">Abstract</tspan></text></g>
<g id="ve6" class="n"><circle cx="557" cy="290" r="11"/><text y="289"><tspan x="557">Emotional</tspan><tspan x="557" dy="4.4">Mapping</tspan></text></g>
<g id="ve7" class="n"><circle cx="481" cy="234" r="11"/><text y="230.8"><tspan x="481">Product</tspan><tspan x="481" dy="4.4">Attachment</tspan><tspan x="481" dy="4.4">Scale</tspan></text></g>
<g id="ve8" class="n"><circle cx="471" cy="260" r="11"/><text y="259"><tspan x="471">Pleasure</tspan><tspan x="471" dy="4.4">Analysis</tspan></text></g>
<g id="ve9" class="n"><circle cx="478" cy="288" r="10"/><text x="478" y="289.3">Emo</text></g>
<g id="ve10" class="n"><circle cx="502" cy="305" r="11"/><text x="502" y="306.3">Emoticons</text></g>
<g id="ve11" class="n"><circle cx="532" cy="306" r="11"/><text y="302.8"><tspan x="532">PAD</tspan><tspan x="532" dy="4.4">Emotional</tspan><tspan x="532" dy="4.4">Scales</tspan></text></g>
<g id="ex1" class="n"><circle cx="438" cy="297" r="10"/><text y="293.8"><tspan x="438">Generative</tspan><tspan x="438" dy="4.4">Think</tspan><tspan x="438" dy="4.4">Aloud</tspan></text></g>
<g id="ex2" class="n"><circle cx="415" cy="306" r="11"/><text y="302.8"><tspan x="415">Adopt</tspan><tspan x="415" dy="4.4">a</tspan><tspan x="415" dy="4.4">User</tspan></text></g>
<g id="ex3" class="n"><circle cx="462" cy="308" r="11"/><text y="307"><tspan x="462">Five</tspan><tspan x="462" dy="4.4">Hats</tspan></text></g>
<g id="ex4" class="n"><circle cx="404" cy="330" r="11"/><text y="326.8"><tspan x="404">Role</tspan><tspan x="404" dy="4.4">Play</tspan><tspan x="404" dy="4.4">Experience</tspan></text></g>
<g id="ex5" class="n"><circle cx="475" cy="330" r="10"/><text y="329"><tspan x="475">Scenario</tspan><tspan x="475" dy="4.4">Testing</tspan></text></g>
<g id="ex6" class="n"><circle cx="416" cy="353" r="11"/><text y="352"><tspan x="416">Post</tspan><tspan x="416" dy="4.4">Tours</tspan></text></g>
<g id="ex7" class="n"><circle cx="439" cy="363" r="11"/><text y="359.8"><tspan x="439">Guided</tspan><tspan x="439" dy="4.4">Story-</tspan><tspan x="439" dy="4.4">telling</tspan></text></g>
<g id="ex8" class="n"><circle cx="465" cy="353" r="11"/><text y="349.8"><tspan x="465">Word</tspan><tspan x="465" dy="4.4">Concept</tspan><tspan x="465" dy="4.4">Association</tspan></text></g>
<g id="lc1" class="n"><circle cx="518" cy="334" r="11"/><text y="330.8"><tspan x="518">Semantic</tspan><tspan x="518" dy="4.4">Differential</tspan><tspan x="518" dy="4.4">Scales</tspan></text></g>
<g id="lc2" class="n"><circle cx="549" cy="332" r="11"/><text y="328.8"><tspan x="549">Integrated</tspan><tspan x="549" dy="4.4">Product</tspan><tspan x="549" dy="4.4">Usage</tspan></text></g>
<g id="lc3" class="n"><circle cx="574" cy="349" r="11"/><text y="345.8"><tspan x="574">Product</tspan><tspan x="574" dy="4.4">Reaction</tspan><tspan x="574" dy="4.4">Analysis</tspan></text></g>
<g id="lc4" class="n"><circle cx="582" cy="379" r="11"/><text y="375.8"><tspan x="582">Eye</tspan><tspan x="582" dy="4.4">Tracking</tspan><tspan x="582" dy="4.4">Analysis</tspan></text></g>
<g id="lc5" class="n"><circle cx="574" cy="408" r="11"/><text y="407"><tspan x="574">Usability</tspan><tspan x="574" dy="4.4">Testing</tspan></text></g>
<g id="lc6" class="n"><circle cx="547" cy="423" r="11"/><text y="422"><tspan x="547">Experience</tspan><tspan x="547" dy="4.4">Prototyping</tspan></text></g>
<g id="lc7" class="n"><circle cx="520" cy="421" r="11"/><text y="420"><tspan x="520">Parallel</tspan><tspan x="520" dy="4.4">Testing</tspan></text></g>
<g id="lc8" class="n"><circle cx="496" cy="404" r="11"/><text y="403"><tspan x="496">Visual</tspan><tspan x="496" dy="4.4">Scanning</tspan></text></g>
<g id="lc9" class="n"><circle cx="488" cy="378" r="11"/><text y="377"><tspan x="488">Heuristic</tspan><tspan x="488" dy="4.4">Evaluation</tspan></text></g>
<g id="lc10" class="n"><circle cx="497" cy="349" r="11"/><text y="345.8"><tspan x="497">Product</tspan><tspan x="497" dy="4.4">Attachment</tspan><tspan x="497" dy="4.4">Scale</tspan></text></g>

<g id="mo1" class="n"><circle cx="208" cy="268" r="11"/><text y="267"><tspan x="208">Position</tspan><tspan x="208" dy="4.4">Mapping</tspan></text></g>
<g id="mo2" class="n"><circle cx="236" cy="267" r="11"/><text y="266"><tspan x="236">Conceptual</tspan><tspan x="236" dy="4.4">Landscape</tspan></text></g>
<g id="mo3" class="n"><circle cx="263" cy="284" r="11"/><text y="283"><tspan x="263">Activity</tspan><tspan x="263" dy="4.4">Scenarios</tspan></text></g>
<g id="mo4" class="n"><circle cx="288" cy="295" r="11"/><text y="294"><tspan x="288">Historical</tspan><tspan x="288" dy="4.4">Analysis</tspan></text></g>
<g id="mo5" class="n"><circle cx="271" cy="314" r="11"/><text y="313"><tspan x="271">Parametric</tspan><tspan x="271" dy="4.4">Analysis</tspan></text></g>
<g id="mo6" class="n"><circle cx="264" cy="343" r="11"/><text y="342"><tspan x="264">Flow</tspan><tspan x="264" dy="4.4">Analysis</tspan></text></g>
<g id="mo7" class="n"><circle cx="239" cy="357" r="11"/><text y="356"><tspan x="239">Task</tspan><tspan x="239" dy="4.4">Modeling</tspan></text></g>
<g id="mo8" class="n"><circle cx="208" cy="358" r="11"/><text y="354.8"><tspan x="208">Anthro-</tspan><tspan x="208" dy="4.4">pometric</tspan><tspan x="208" dy="4.4">Analysis</tspan></text></g>
<g id="mo9" class="n"><circle cx="180" cy="338" r="11"/><text y="337"><tspan x="180">Taxonomy</tspan><tspan x="180" dy="4.4">Model</tspan></text></g>
<g id="mo10" class="n"><circle cx="159" cy="326" r="11"/><text y="325"><tspan x="159">Interaction</tspan><tspan x="159" dy="4.4">Analysis</tspan></text></g>
<g id="mo11" class="n"><circle cx="179" cy="309" r="11"/><text y="308"><tspan x="179">Task</tspan><tspan x="179" dy="4.4">Analysis</tspan></text></g>
<g id="mo12" class="n"><circle cx="160" cy="287" r="11"/><text y="286"><tspan x="160">Mode</tspan><tspan x="160" dy="4.4">Mapping</tspan></text></g>
<g id="mo13" class="n"><circle cx="184" cy="284" r="11"/><text y="283"><tspan x="184">Activity</tspan><tspan x="184" dy="4.4">Analysis</tspan></text></g>
<g id="un1" class="n"><circle cx="162" cy="421" r="11"/><text y="417.8"><tspan x="162">Life</tspan><tspan x="162" dy="4.4">Cycle</tspan><tspan x="162" dy="4.4">Analysis</tspan></text></g>
<g id="un2" class="n"><circle cx="200" cy="421" r="11"/><text y="417.8"><tspan x="200">Affect</tspan><tspan x="200" dy="4.4">Visual-</tspan><tspan x="200" dy="4.4">ization</tspan></text></g>
<g id="un3" class="n"><circle cx="214" cy="391" r="11"/><text y="387.8"><tspan x="214">Customer</tspan><tspan x="214" dy="4.4">Segmen-</tspan><tspan x="214" dy="4.4">tation</tspan></text></g>
<g id="d1" class="n"><circle cx="335" cy="304" r="10"/><text x="335" y="305.3">Typology</text></g>
<g id="d2" class="n"><circle cx="316" cy="324" r="11"/><text y="323"><tspan x="316">Design</tspan><tspan x="316" dy="4.4">Fiction</tspan></text></g>
<g id="d3" class="n"><circle cx="352" cy="328" r="10"/><text x="352" y="329.3">POEMS</text></g>
<g id="d4" class="n"><circle cx="292" cy="339" r="11"/><text y="335.8"><tspan x="292">Concept</tspan><tspan x="292" dy="4.4">Of</tspan><tspan x="292" dy="4.4">Use</tspan></text></g>
<g id="d5" class="n"><circle cx="286" cy="366" r="11"/><text y="365"><tspan x="286">Insight</tspan><tspan x="286" dy="4.4">Matrix</tspan></text></g>
<g id="d6" class="n"><circle cx="263" cy="387" r="10"/><text x="263" y="388.3">Art</text></g>
<g id="d7" class="n"><circle cx="291" cy="394" r="11"/><text y="390.8"><tspan x="291">Grounded</tspan><tspan x="291" dy="4.4">Theory</tspan><tspan x="291" dy="4.4">Analysis</tspan></text></g>
<g id="d8" class="n"><circle cx="291" cy="421" r="11"/><text y="420"><tspan x="291">Trend</tspan><tspan x="291" dy="4.4">Analysis</tspan></text></g>
<g id="d9" class="n"><circle cx="316" cy="413" r="11"/><text x="316" y="414.3">KJ/TO</text></g>
<g id="d10" class="n"><circle cx="347" cy="415" r="11"/><text y="414"><tspan x="347">Era</tspan><tspan x="347" dy="4.4">Analysis</tspan></text></g>
<g id="d11" class="n"><circle cx="372" cy="341" r="11"/><text y="340"><tspan x="372">Thematic</tspan><tspan x="372" dy="4.4">Analysis</tspan></text></g>
<g id="d12" class="n"><circle cx="379" cy="369" r="11"/><text y="368"><tspan x="379">Trend</tspan><tspan x="379" dy="4.4">Matrix</tspan></text></g>
<g id="d13" class="n"><circle cx="371" cy="398" r="11"/><text y="397"><tspan x="371">Competitive</tspan><tspan x="371" dy="4.4">Analysis</tspan></text></g>

<g id="pb1" class="n"><circle cx="13" cy="312" r="11"/><text y="311"><tspan x="13">Digital</tspan><tspan x="13" dy="4.4">Diaries</tspan></text></g>
<g id="pb2" class="n"><circle cx="40" cy="310" r="11"/><text x="40" y="311.3">Diaries</text></g>
<g id="pb3" class="n"><circle cx="67" cy="318" r="11"/><text y="317"><tspan x="67">Beeper</tspan><tspan x="67" dy="4.4">Study</tspan></text></g>
<g id="pb4" class="n"><circle cx="97" cy="318" r="11"/><text y="317"><tspan x="97">Handout</tspan><tspan x="97" dy="4.4">Probes</tspan></text></g>
<g id="pb5" class="n"><circle cx="45" cy="335" r="11"/><text y="334"><tspan x="45">Scavenger</tspan><tspan x="45" dy="4.4">Hunt</tspan></text></g>
<g id="pb6" class="n"><circle cx="20" cy="339" r="11"/><text y="338"><tspan x="20">Photo</tspan><tspan x="20" dy="4.4">Diary</tspan></text></g>
<g id="pb7" class="n"><circle cx="122" cy="335" r="11"/><text y="334"><tspan x="122">Reflection</tspan><tspan x="122" dy="4.4">Probes</tspan></text></g>
<g id="pb8" class="n"><circle cx="35" cy="362" r="11"/><text y="361"><tspan x="35">Experience</tspan><tspan x="35" dy="4.4">Clips</tspan></text></g>
<g id="pb9" class="n"><circle cx="128" cy="365" r="10"/><text y="364"><tspan x="128">CD</tspan><tspan x="128" dy="4.4">Probe</tspan></text></g>
<g id="pb10" class="n"><circle cx="15" cy="385" r="11"/><text y="384"><tspan x="15">Cultural</tspan><tspan x="15" dy="4.4">Probes</tspan></text></g>
<g id="pb11" class="n"><circle cx="43" cy="389" r="11"/><text y="388"><tspan x="43">Behavior</tspan><tspan x="43" dy="4.4">Sampling</tspan></text></g>
<g id="pb12" class="n"><circle cx="122" cy="394" r="11"/><text y="390.8"><tspan x="122">Everything</tspan><tspan x="122" dy="4.4">I Touch</tspan><tspan x="122" dy="4.4">Diary</tspan></text></g>
<g id="pb13" class="n"><circle cx="65" cy="407" r="11"/><text x="65" y="408.3">SPEED UP</text></g>
<g id="pb14" class="n"><circle cx="97" cy="407" r="11"/><text y="403.8"><tspan x="97">Mapping</tspan><tspan x="97" dy="4.4">Mood</tspan><tspan x="97" dy="4.4">Mapping</tspan></text></g>
<g id="pb15" class="n"><circle cx="35" cy="417" r="11"/><text y="416"><tspan x="35">Camera</tspan><tspan x="35" dy="4.4">Study</tspan></text></g>

<g id="pa1" class="n"><circle cx="20" cy="170" r="11"/><text y="169"><tspan x="20">Image</tspan><tspan x="20" dy="4.4">Collage</tspan></text></g>
<g id="pa2" class="n"><circle cx="45" cy="183" r="11"/><text y="182"><tspan x="45">Social</tspan><tspan x="45" dy="4.4">Mapping</tspan></text></g>
<g id="pa3" class="n"><circle cx="75" cy="177" r="11"/><text y="176"><tspan x="75">Delphi</tspan><tspan x="75" dy="4.4">Group</tspan></text></g>
<g id="pa4" class="n"><circle cx="23" cy="198" r="11"/><text y="197"><tspan x="23">Inspiration</tspan><tspan x="23" dy="4.4">Cards</tspan></text></g>
<g id="pa5" class="n"><circle cx="62" cy="203" r="11"/><text y="202"><tspan x="62">Character</tspan><tspan x="62" dy="4.4">Experience</tspan></text></g>
<g id="pa6" class="n"><circle cx="88" cy="203" r="11"/><text y="199.8"><tspan x="88">Search</tspan><tspan x="88" dy="4.4">Pool</tspan><tspan x="88" dy="4.4">Exercise</tspan></text></g>
<g id="pa7" class="n"><circle cx="37" cy="220" r="11"/><text y="219"><tspan x="37">Generative</tspan><tspan x="37" dy="4.4">Collage</tspan></text></g>
<g id="pa8" class="n"><circle cx="13" cy="225" r="11"/><text y="224"><tspan x="13">Dream-</tspan><tspan x="13" dy="4.4">scaping</tspan></text></g>
<g id="pa9" class="n"><circle cx="117" cy="220" r="11"/><text y="219"><tspan x="117">Instruction</tspan><tspan x="117" dy="4.4">Embedding</tspan></text></g>
<g id="pa10" class="n"><circle cx="27" cy="247" r="11"/><text y="246"><tspan x="27">Mood</tspan><tspan x="27" dy="4.4">Boarding</tspan></text></g>
<g id="pa11" class="n"><circle cx="125" cy="247" r="11"/><text y="246"><tspan x="125">Open</tspan><tspan x="125" dy="4.4">Studios</tspan></text></g>
<g id="pa12" class="n"><circle cx="13" cy="268" r="11"/><text y="267"><tspan x="13">Image</tspan><tspan x="13" dy="4.4">Board</tspan></text></g>
<g id="pa13" class="n"><circle cx="37" cy="273" r="11"/><text y="272"><tspan x="37">IDEO</tspan><tspan x="37" dy="4.4">Interaction</tspan></text></g>
<g id="pa14" class="n"><circle cx="117" cy="277" r="11"/><text y="273.8"><tspan x="117">Design</tspan><tspan x="117" dy="4.4">the</tspan><tspan x="117" dy="4.4">Box</tspan></text></g>
<g id="pa15" class="n"><circle cx="60" cy="290" r="11"/><text y="289"><tspan x="60">Playful</tspan><tspan x="60" dy="4.4">Triggers</tspan></text></g>
<g id="pa16" class="n"><circle cx="92" cy="292" r="11"/><text y="291"><tspan x="92">Velcro</tspan><tspan x="92" dy="4.4">Modeling</tspan></text></g>

<g id="fu1" class="n"><circle cx="117" cy="139" r="11"/><text y="138"><tspan x="117">Analogous</tspan><tspan x="117" dy="4.4">Research</tspan></text></g>
<g id="fu2" class="n"><circle cx="142" cy="128" r="11"/><text y="127"><tspan x="142">Secondary</tspan><tspan x="142" dy="4.4">Research</tspan></text></g>
<g id="fu3" class="n"><circle cx="166" cy="133" r="11"/><text y="132"><tspan x="166">Problem</tspan><tspan x="166" dy="4.4">Observation</tspan></text></g>
<g id="fu4" class="n"><circle cx="178" cy="160" r="11"/><text y="156.8"><tspan x="178">Predict</tspan><tspan x="178" dy="4.4">Grade</tspan><tspan x="178" dy="4.4">Grading</tspan></text></g>
<g id="fu5" class="n"><circle cx="171" cy="186" r="11"/><text y="185"><tspan x="171">Second</tspan><tspan x="171" dy="4.4">Life</tspan></text></g>
<g id="fu6" class="n"><circle cx="147" cy="196" r="11"/><text y="192.8"><tspan x="147">Zoom In</tspan><tspan x="147" dy="4.4">to</tspan><tspan x="147" dy="4.4">Out</tspan></text></g>
<g id="fu7" class="n"><circle cx="119" cy="191" r="11"/><text y="190"><tspan x="119">Outlier</tspan><tspan x="119" dy="4.4">Sampling</tspan></text></g>
<g id="fu8" class="n"><circle cx="107" cy="169" r="11"/><text y="168"><tspan x="107">Longitudinal</tspan><tspan x="107" dy="4.4">Studies</tspan></text></g>

<g id="q1" class="n"><circle cx="207" cy="143" r="11"/><text y="142"><tspan x="207">Question-</tspan><tspan x="207" dy="4.4">naires</tspan></text></g>
<g id="q2" class="n"><circle cx="230" cy="137" r="11"/><text x="230" y="138.3">Laddering</text></g>
<g id="q3" class="n"><circle cx="253" cy="146" r="11"/><text x="253" y="147.3">Surveys</text></g>
<g id="q4" class="n"><circle cx="282" cy="143" r="11"/><text y="142"><tspan x="282">Quick</tspan><tspan x="282" dy="4.4">Definition</tspan></text></g>
<g id="q5" class="n"><circle cx="306" cy="135" r="11"/><text y="134"><tspan x="306">Oral</tspan><tspan x="306" dy="4.4">Histories</tspan></text></g>
<g id="q6" class="n"><circle cx="332" cy="142" r="11"/><text y="138.8"><tspan x="332">Foreign</tspan><tspan x="332" dy="4.4">Corre-</tspan><tspan x="332" dy="4.4">spondents</tspan></text></g>
<g id="q7" class="n"><circle cx="308" cy="163" r="11"/><text y="162"><tspan x="308">Remote</tspan><tspan x="308" dy="4.4">Inquiry</tspan></text></g>
<g id="q8" class="n"><circle cx="333" cy="170" r="11"/><text y="169"><tspan x="333">Contextual</tspan><tspan x="333" dy="4.4">Interview</tspan></text></g>
<g id="q9" class="n"><circle cx="317" cy="192" r="11"/><text y="188.8"><tspan x="317">Extreme</tspan><tspan x="317" dy="4.4">User</tspan><tspan x="317" dy="4.4">Interviews</tspan></text></g>
<g id="q10" class="n"><circle cx="335" cy="210" r="11"/><text y="209"><tspan x="335">Free</tspan><tspan x="335" dy="4.4">Listing</tspan></text></g>
<g id="q11" class="n"><circle cx="310" cy="222" r="11"/><text y="221"><tspan x="310">Knowledge</tspan><tspan x="310" dy="4.4">Mining</tspan></text></g>
<g id="q12" class="n"><circle cx="283" cy="235" r="11"/><text y="234"><tspan x="283">Focus</tspan><tspan x="283" dy="4.4">Groups</tspan></text></g>
<g id="q13" class="n"><circle cx="253" cy="233" r="11"/><text y="232"><tspan x="253">Guided</tspan><tspan x="253" dy="4.4">Tours</tspan></text></g>
<g id="q14" class="n"><circle cx="228" cy="217" r="11"/><text y="213.8"><tspan x="228">Extreme</tspan><tspan x="228" dy="4.4">User</tspan><tspan x="228" dy="4.4">Research</tspan></text></g>
<g id="q15" class="n"><circle cx="203" cy="205" r="11"/><text y="204"><tspan x="203">Stakeholder</tspan><tspan x="203" dy="4.4">Interviews</tspan></text></g>
<g id="q16" class="n"><circle cx="223" cy="187" r="11"/><text y="183.8"><tspan x="223">Where</tspan><tspan x="223" dy="4.4">and</tspan><tspan x="223" dy="4.4">Why</tspan></text></g>
<g id="q17" class="n"><circle cx="232" cy="162" r="11"/><text y="161"><tspan x="232">Five</tspan><tspan x="232" dy="4.4">Whys?</tspan></text></g>
<g id="q18" class="n"><circle cx="207" cy="170" r="11"/><text y="166.8"><tspan x="207">Ethno-</tspan><tspan x="207" dy="4.4">graphic</tspan><tspan x="207" dy="4.4">Interviews</tspan></text></g>
</g>
</svg>
